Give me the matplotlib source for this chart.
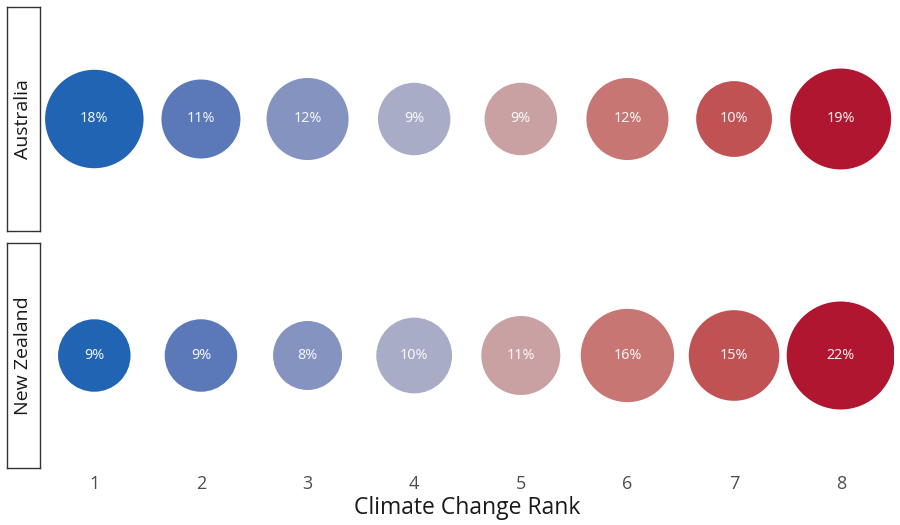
import matplotlib
matplotlib.use("Agg")
import matplotlib.pyplot as plt
import numpy as np

plt.rcParams['font.family'] = ['Open Sans', 'DejaVu Sans']

ranks = [1, 2, 3, 4, 5, 6, 7, 8]
countries = ["Australia", "New Zealand"]
australia = [18, 11, 12, 9, 9, 12, 10, 19]
new_zealand = [9, 9, 8, 10, 11, 16, 15, 22]
values = [australia, new_zealand]
colors = ["#2164b3", "#5b79b9", "#8593c0", "#a8acc6", "#c9a1a3", "#c77674", "#c05254", "#b0162f"]

W, H, DPI = 900, 525, 100
fig = plt.figure(figsize=(W / DPI, H / DPI), dpi=DPI)

def px_axes(x0, y0, x1, y1):
    return fig.add_axes([x0 / W, 1 - y1 / H, (x1 - x0) / W, (y1 - y0) / H])

def bubble_size(v):
    r = np.sqrt(1190 + 123.3 * (np.asarray(v, float) - 8))
    return (2 * r * 72 / DPI) ** 2

rows = [(7, 231), (243, 468)]
axes = []
for i, (y0, y1) in enumerate(rows):
    ax = px_axes(41, y0, 894, y1)
    ax.scatter(ranks, [0] * len(ranks), s=bubble_size(values[i]), c=colors, linewidths=0, zorder=2)
    for xr, v in zip(ranks, values[i]):
        ax.text(xr, 0, f"{v}%", ha="center", va="center", color="white", fontsize=10.3,
                alpha=0.92, zorder=3, family=["Noto Sans", "DejaVu Sans"])
    ax.set_xlim(0.5, 8.5)
    ax.set_ylim(-1, 1)
    ax.set_yticks([])
    for s in ax.spines.values():
        s.set_visible(False)
    ax.set_xticks(ranks)
    if i == 0:
        ax.tick_params(axis="x", length=0, labelbottom=False)
    else:
        ax.tick_params(axis="x", length=0, labelsize=13, labelcolor="#4d4d4d", pad=5)
        ax.set_xlabel("Climate Change Rank", fontsize=16.5, color="#1a1a1a", labelpad=2)
    axes.append(ax)

    sax = px_axes(7, y0, 40, y1)
    sax.set_xticks([]); sax.set_yticks([])
    for s in sax.spines.values():
        s.set_edgecolor("#333333")
        s.set_linewidth(1.0)
    sax.text(0.5, 0.5, countries[i], rotation=90, ha="center", va="center",
             fontsize=14, color="#1a1a1a", transform=sax.transAxes)

fig.savefig("out.png", dpi=DPI)
